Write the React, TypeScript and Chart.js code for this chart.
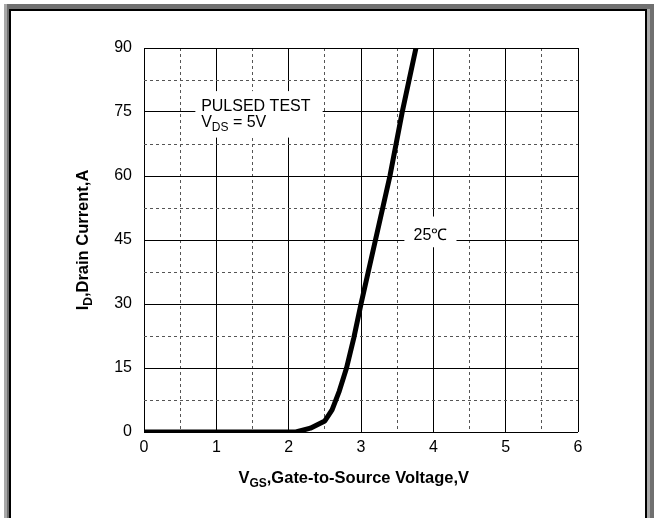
import React, { useEffect, useRef } from 'react';
import { Chart, registerables } from 'chart.js';
Chart.register(...registerables);

// ---- data ----
const vgs = [0, 1, 2, 2.1, 2.3, 2.5, 2.6, 2.7, 2.8, 2.9, 3.0, 3.2, 3.4, 3.57, 3.76];
const idDrain = [0, 0, 0, 0, 0.9, 2.6, 5.2, 9.6, 15, 22, 30, 45, 60, 75, 90];
const xTickLabels = [0, 1, 2, 3, 4, 5, 6];
const yTickLabels = [0, 15, 30, 45, 60, 75, 90];
const curveLabel = '25℃';

const FONT = '"Liberation Sans", Arial, sans-serif';

type Part = { t: string; sub?: boolean };

function partsWidth(ctx: CanvasRenderingContext2D, parts: Part[], size: number, weight: string) {
  let w = 0;
  for (const p of parts) {
    ctx.font = `${weight} ${p.sub ? Math.round(size * 0.72) : size}px ${FONT}`;
    w += ctx.measureText(p.t).width;
  }
  return w;
}

function drawParts(ctx: CanvasRenderingContext2D, parts: Part[], x: number, y: number, size: number, weight: string) {
  let cx = x;
  ctx.textBaseline = 'alphabetic';
  ctx.textAlign = 'left';
  for (const p of parts) {
    const s = p.sub ? Math.round(size * 0.72) : size;
    ctx.font = `${weight} ${s}px ${FONT}`;
    ctx.fillText(p.t, cx, y + (p.sub ? size * 0.25 : 0));
    cx += ctx.measureText(p.t).width;
  }
}

const overlay = {
  id: 'overlay',
  beforeDatasetsDraw(chart: any) {
    const { ctx, scales } = chart;
    const x = scales.x, y = scales.y;
    ctx.save();
    // PULSED TEST box
    ctx.fillStyle = '#fff';
    const bx1 = x.getPixelForValue(0.71), bx2 = x.getPixelForValue(2.47);
    const by1 = y.getPixelForValue(79.9), by2 = y.getPixelForValue(69.0);
    ctx.fillRect(bx1, by1, bx2 - bx1, by2 - by1);
    ctx.fillStyle = '#000';
    const tx = x.getPixelForValue(0.79);
    drawParts(ctx, [{ t: 'PULSED TEST' }], tx, y.getPixelForValue(75.3), 16, 'normal');
    drawParts(ctx, [{ t: 'V' }, { t: 'DS', sub: true }, { t: ' = 5V' }], tx, y.getPixelForValue(71.6), 16, 'normal');
    // 25C box
    ctx.fillStyle = '#fff';
    const cx1 = x.getPixelForValue(3.6), cx2 = x.getPixelForValue(4.32);
    const cy1 = y.getPixelForValue(50.5), cy2 = y.getPixelForValue(43.3);
    ctx.fillRect(cx1, cy1, cx2 - cx1, cy2 - cy1);
    ctx.fillStyle = '#000';
    ctx.font = `normal 16px ${FONT}`;
    ctx.textAlign = 'center';
    ctx.textBaseline = 'alphabetic';
    ctx.fillText(curveLabel, x.getPixelForValue(3.96), y.getPixelForValue(44.9));
    ctx.restore();
  },
  afterDraw(chart: any) {
    const { ctx, scales, chartArea } = chart;
    const x = scales.x;
    ctx.save();
    ctx.fillStyle = '#000';
    // x title
    const xp: Part[] = [{ t: 'V' }, { t: 'GS', sub: true }, { t: ',Gate-to-Source Voltage,V' }];
    const xw = partsWidth(ctx, xp, 16.5, 'bold');
    drawParts(ctx, xp, x.getPixelForValue(2.9) - xw / 2, 483, 16.5, 'bold');
    // y title
    const yp: Part[] = [{ t: 'I' }, { t: 'D', sub: true }, { t: ',Drain Current,A' }];
    const yw = partsWidth(ctx, yp, 16.5, 'bold');
    ctx.translate(88, (chartArea.top + chartArea.bottom) / 2);
    ctx.rotate(-Math.PI / 2);
    drawParts(ctx, yp, -yw / 2, 0, 16.5, 'bold');
    ctx.restore();
  },
};

export default function App() {
  const ref = useRef<HTMLCanvasElement>(null);
  useEffect(() => {
    if (!ref.current) return;
    const isMajorX = (v: number) => Math.abs(v - Math.round(v)) < 1e-6;
    const isMajorY = (v: number) => Math.abs(v / 15 - Math.round(v / 15)) < 1e-6;
    const chart = new Chart(ref.current, {
      type: 'line',
      data: {
        datasets: [
          {
            data: vgs.map((v, i) => ({ x: v, y: idDrain[i] })),
            borderColor: '#000',
            borderWidth: 5,
            pointRadius: 0,
            tension: 0,
            borderJoinStyle: 'round',
            fill: false,
          },
        ],
      },
      options: {
        responsive: false,
        animation: false,
        layout: { padding: { left: 0, right: 76, top: 48, bottom: 0 } },
        plugins: { legend: { display: false }, tooltip: { enabled: false } },
        scales: {
          x: {
            type: 'linear',
            min: 0,
            max: 6,
            afterFit: (s: any) => { s.height = 86; },
            afterBuildTicks: (s: any) => {
              const t: any[] = [];
              for (let i = 0; i <= 12; i++) t.push({ value: i * 0.5 });
              s.ticks = t;
            },
            ticks: {
              autoSkip: false,
              maxRotation: 0,
              padding: 6,
              color: '#000',
              font: { family: FONT, size: 16 },
              callback: (v: any) => (xTickLabels.includes(Number(v)) ? String(v) : ''),
            },
            grid: {
              drawTicks: false,
              lineWidth: 1,
              color: (c: any) => (c.tick && !isMajorX(c.tick.value) ? '#555' : '#000'),
            },
            border: {
              display: false,
              dash: (c: any) => (c.tick && !isMajorX(c.tick.value) ? [3, 3] : []),
            },
          },
          y: {
            type: 'linear',
            min: 0,
            max: 90,
            afterFit: (s: any) => { s.width = 144; },
            afterBuildTicks: (s: any) => {
              const t: any[] = [];
              for (let i = 0; i <= 12; i++) t.push({ value: i * 7.5 });
              s.ticks = t;
            },
            ticks: {
              autoSkip: false,
              padding: 12,
              color: '#000',
              font: { family: FONT, size: 16 },
              callback: (v: any) => (yTickLabels.includes(Number(v)) ? String(v) : ''),
            },
            grid: {
              drawTicks: false,
              lineWidth: 1,
              color: (c: any) => (c.tick && !isMajorY(c.tick.value) ? '#555' : '#000'),
            },
            border: {
              display: false,
              dash: (c: any) => (c.tick && !isMajorY(c.tick.value) ? [3, 3] : []),
            },
          },
        },
      },
      plugins: [overlay],
    } as any);
    return () => chart.destroy();
  }, []);

  return (
    <div style={{ position: 'fixed', left: 0, top: 0, width: 654, height: 518, overflow: 'hidden', background: '#fff' }}>
      <div style={{ position: 'absolute', left: 4, top: 4, width: 650, height: 600, background: '#707070', boxSizing: 'border-box', borderLeft: '3px solid #a8a8a8' }} />
      <div style={{ position: 'absolute', left: 647, top: 9, width: 3, height: 600, background: '#a8a8a8' }} />
      <div style={{ position: 'absolute', left: 9, top: 9, width: 638, height: 600, background: '#fff', boxSizing: 'border-box', border: '2px solid #000' }} />
      <canvas ref={ref} width={654} height={518} style={{ position: 'absolute', left: 0, top: 0, width: 654, height: 518 }} />
    </div>
  );
}
